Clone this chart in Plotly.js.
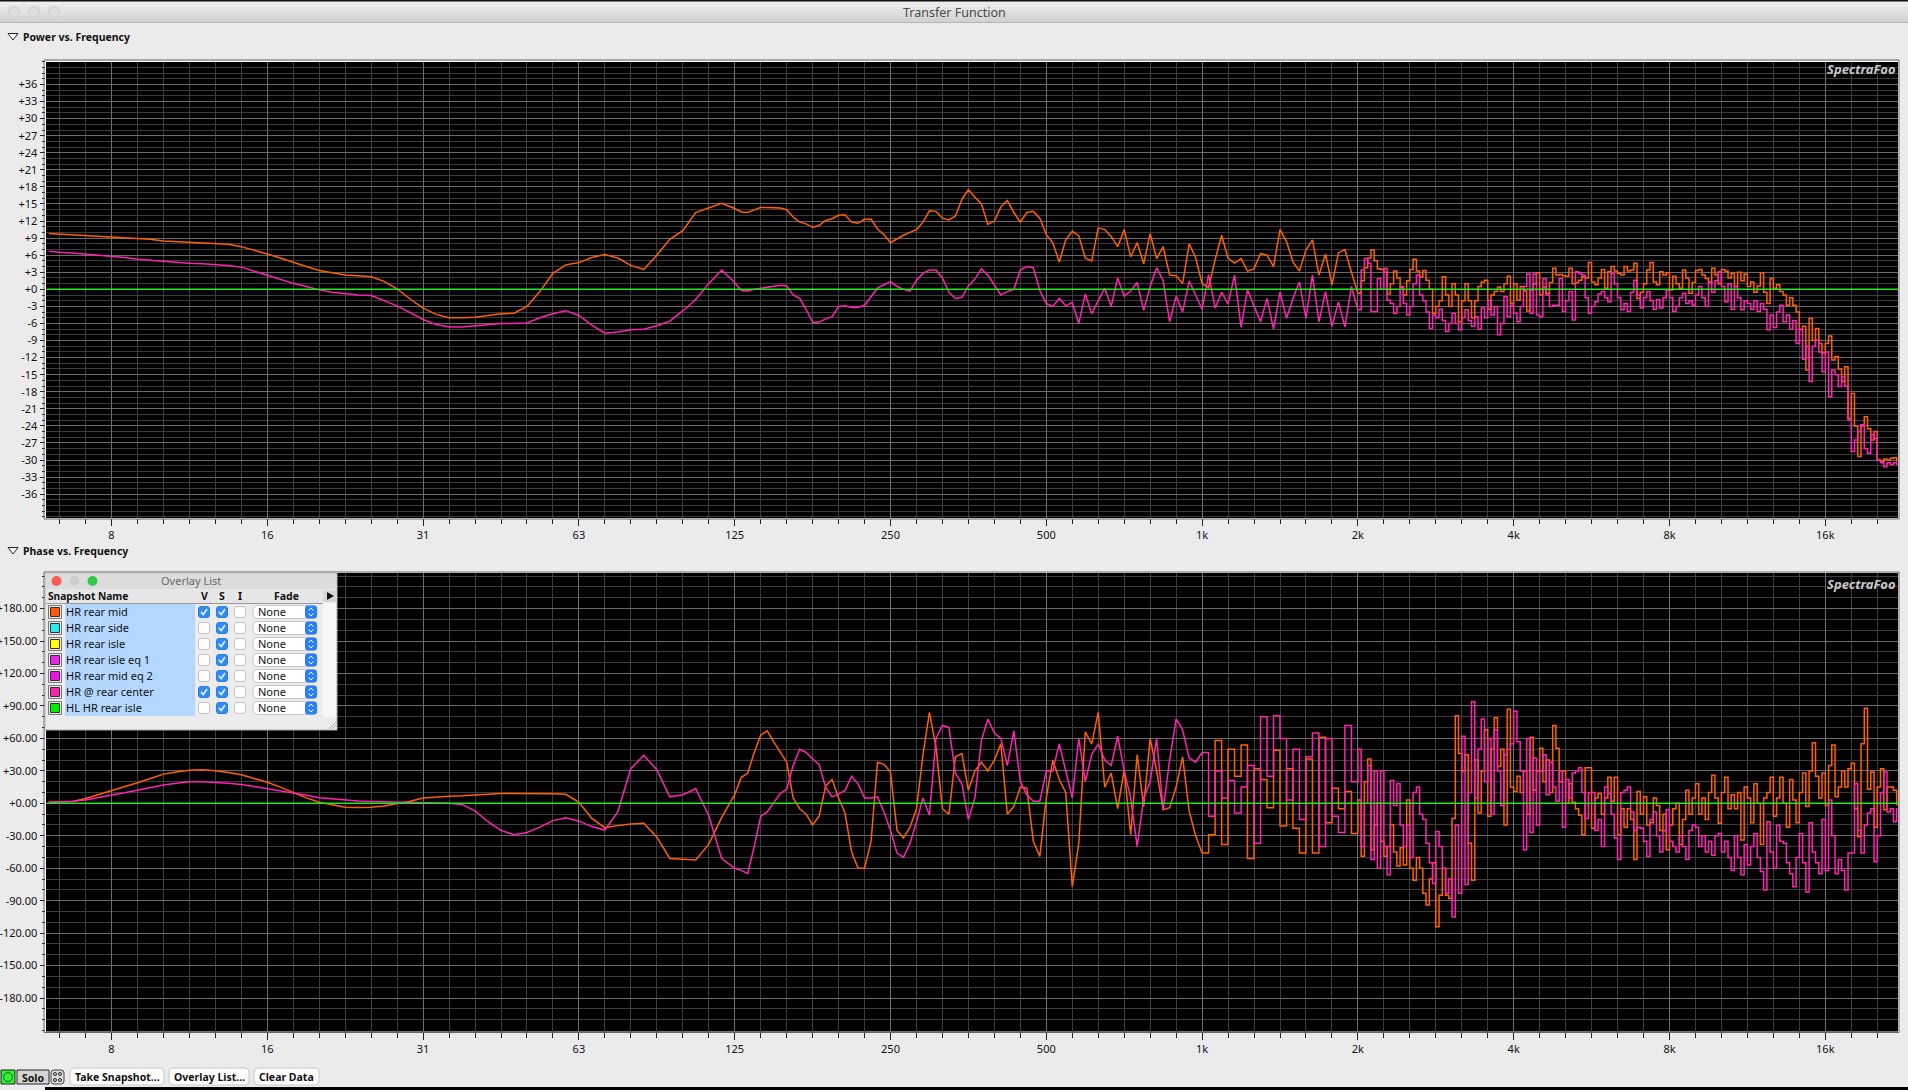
<!DOCTYPE html>
<html><head><meta charset="utf-8">
<script src="https://cdn.plot.ly/plotly-3.0.1.min.js"></script>
<style>html,body{margin:0;padding:0;background:#ebebeb;overflow:hidden}</style>
</head><body><div id="chart"></div>
<script>
// Frequencies (Hz) shared by all the curves
const freq = [
6.05,6.35,6.73,7.13,7.55,
8,8.48,8.98,9.51,10.08,10.68,11.31,11.99,12.7,13.45,14.25,15.1,
16,16.95,17.96,19.03,20.16,21.36,22.63,23.97,25.4,26.9,28.5,30.2,
32,33.9,35.9,38.05,40.3,42.7,45.25,47.95,50.8,53.8,57,60.4,
64,67.8,71.8,76.1,80.6,85.4,90.5,95.9,101.6,107.6,114,120.8,
128,131.8,135.6,139.6,143.7,147.9,152.2,156.7,161.3,166,170.9,175.9,181,186.3,191.8,197.4,203.2,209.1,215.3,221.6,228.1,234.8,241.6,248.7,
256,263.5,271.2,279.2,287.4,295.8,304.4,313.4,322.5,332,341.7,351.7,362,372.7,383.6,394.8,406.4,418.3,430.5,443.2,456.1,469.5,483.3,497.4,
512,527,542.4,558.3,574.7,591.6,608.9,626.7,645.1,664,683.4,703.4,724.1,745.3,767.1,789.6,812.7,836.5,861.1,886.3,912.3,939,966.5,994.9,
1024,1054,1085,1117,1149,1183,1218,1253,1290,1328,1367,1407,1448,1491,1534,1579,1625,1673,1722,1773,1825,1878,1933,1990,
2048,2078,2108,2139,2170,2202,2233,2266,2299,2332,2366,2401,2436,2471,2507,2544,2580,2618,2657,2695,2734,2773,2814,2855,2896,2939,2981,3025,3069,3113,3159,3204,3251,3298,3346,3395,3445,3495,3545,3597,3649,3702,3756,3811,3866,3922,3979,4037,
4096,4156,4216,4278,4340,4404,4466,4532,4598,4664,4732,4802,4872,4942,5014,5088,5160,5236,5314,5390,5468,5546,5628,5710,5792,5878,5962,6050,6138,6226,6318,6408,6502,6596,6692,6790,6890,6990,7090,7194,7298,7404,7512,7622,7732,7844,7958,8074,
8192,8312,8432,8556,8680,8808,8932,9064,9196,9328,9464,9604,9744,9884,10028,10176,10320,10472,10628,10780,10936,11092,11256,11420,11584,11756,11924,12100,12276,12452,12636,12816,13004,13192,13384,13580,13780,13980,14180,14388,14596,14808,15024,15244,15464,15688,15916,16148,
16384,16624,16864,17112,17360,17616,17864,18128,18392,18656,18928,19208,19488,19768,20056,20352,20640,20944,21256,21560,21872,22184,22512];

// Power (dB): "HR rear mid"
const powerRearMid = [
9.8,9.7,9.6,9.5,9.4,
9.2,9.1,9.0,8.8,8.5,8.4,8.2,8.2,8.1,7.9,7.5,6.9,
6.2,5.5,4.7,4.0,3.3,2.9,2.5,2.4,2.2,1.4,0.1,-1.7,
-3.3,-4.4,-5.0,-5.0,-4.9,-4.6,-4.3,-4.2,-3.0,-0.4,2.8,4.3,
4.7,5.6,6.1,5.5,4.2,3.5,6.0,8.8,10.3,13.5,14.3,15.1,
14.2,13.6,13.5,13.9,14.4,14.4,14.4,14.3,14.0,12.7,11.8,11.5,10.9,11.2,12.1,12.4,13,13.1,11.8,11.6,12.3,12.3,10.6,9.6,
8.2,8.9,9.5,10,10.5,11.8,13.8,13.7,12.5,12.2,12.9,15.8,17.5,16.2,15.0,11.4,12.0,14.5,15.6,13.5,11.8,13.5,13.7,12.5,
9.6,8.2,4.8,8.7,10.2,9.4,5.5,5.0,10.8,10.5,9.3,7.5,10.5,5.7,8.2,4.5,9.8,5.4,7.5,2.5,2.4,1.0,8.0,5.6,
1.0,0.3,5.2,9.5,5.5,4.6,5.4,3.2,3.6,6.3,6.0,4.0,10.5,8.4,4.8,3.2,6.9,8.7,2.5,6.2,0.8,6.4,7.0,3.0,
-0.7,1.5,3.8,5.5,6.9,5,3.6,3.5,3,-0.8,1,3.2,2,0.3,-1,1.5,3.5,5.3,3.2,2.2,3.3,1.6,0,-4.2,-3,-2,2.2,-1,-3,1,-1,-5.7,-2,1,-2,-5,-2,0.5,1.3,1.6,-3.5,-1,-0.4,0.4,-0.4,1,2.3,-2.5,
1,-1.9,.5,-.3,-3.8,-.1,1,2.9,-1,.4,-.7,1.2,3.7,2.5,2.6,2.4,2.3,3.7,1,1.2,1.6,2.2,2,4.7,1.3,.8,2,3.5,.2,3.1,4,3.2,2.8,2.5,4,3.2,3.4,4.6,-1.6,-.5,1,3.4,4.7,1.3,.8,3.1,2.5,2.9,
-.1,2.3,1,.2,3.4,2,-.7,1.2,3.3,3.5,2.5,1.9,1.2,3.7,2.5,1,3.5,3.2,2,2.8,.5,3,1.5,2.7,.5,1.3,-.5,.6,2.9,-.5,-2.5,1.9,.2,.8,-.4,-1,-2.8,-1.5,-2.8,-4,-7.1,-6.5,-14.2,-5.1,-9,-6.9,-9.5,-11.2,
-9.5,-8.2,-12.4,-11.8,-14,-16.2,-13.6,-22.7,-18.3,-24,-29.4,-24,-22.4,-24.5,-26.5,-25,-30,-30.2,-29.8,-30,-29.7,-29.6,-30.3];

// Power (dB): "HR @ rear center"
const powerRearCenter = [
6.7,6.5,6.4,6.2,6.1,
5.9,5.6,5.3,5.1,4.9,4.7,4.6,4.5,4.4,4.2,3.9,3.2,
2.5,1.8,1.05,.5,-.1,-.5,-.8,-1,-1.1,-2,-2.9,-4.1,
-5.3,-6.2,-6.6,-6.6,-6.4,-6.2,-6,-6,-5.9,-5,-4.3,-3.75,
-4.6,-6.3,-7.7,-7.5,-7.1,-7,-6.4,-5.6,-3.8,-1.8,1,3.4,
1.2,-.2,-.3,0,.2,.4,.5,.7,.6,-1,-1.6,-3.5,-5.8,-5.8,-5.2,-4.8,-3,-2.9,-3.2,-3.2,-2.8,-1.2,.2,.8,
1.35,.5,0,-.3,1.6,2.8,3.4,3.4,2,-.5,-1.6,-1.4,.6,1.8,3.6,2.5,.8,-1,-.4,0,3.4,4,3.8,-.2,
-2.5,-3,-1.6,-2.9,-2.3,-6,-.8,-4.3,-2,.2,-3,2,-1.2,-.3,1.2,-3.7,.5,3.8,1.5,-5.7,-1.2,-4,1.5,-1,
-3.5,2.6,-3.3,-.5,-2.6,2.5,-6.7,-.1,-3,-5.7,-1.6,-7,-.5,-5.1,-1.6,1.3,-5.1,2.5,-5.7,-.4,-6.5,-2.2,-6.6,.5,
-3.6,3.4,5.4,4.6,-3.9,-3.9,1.9,0,3.7,-1.9,-2.5,-4.2,-3,.5,-2.5,-4.5,-3,1,2.5,-1,-2,-4,-6.9,-4.5,-5,-3.5,-5.5,-7.4,-6,-4.2,-6,-7.1,-5,-3.6,-5.5,-6.5,-4.8,-7,-3.3,-5,-1.9,-4.5,-3,-8,-6,-1.3,-4.8,-2.8,
-4.2,-5.7,-3,.5,2.7,-4.2,2.7,-4.5,-4.8,1.9,-1,-3,-2.8,-2.8,1.9,-3.9,-2,-.4,-5.4,3.1,2.8,2.5,-1.5,-4.2,-3,-2.2,-.8,-.4,-1.5,-2.2,2.8,1,-1.5,-3.6,-2.5,-3.9,-.5,1.6,-1,-3.3,-1.5,-.4,-2,-3.5,-1.8,-3.3,-1.5,-.1,
-1.5,-3.9,-3,-1.5,-.7,-2.5,-2,-2.8,-1,.5,-1.5,-3,1.3,-.5,1.5,3.1,.5,-2.2,1,-3.5,.5,-1.5,-3.6,-2,-2.5,-3.5,-2,-3.9,-2.5,-3.5,-7.1,-4.5,-6.7,-4,-2.8,-5.7,-4.5,-7,-5.5,-9.5,-7,-12.3,-10,-16.2,-10,-8.9,-11,-14.5,
-11,-18.9,-14.2,-15,-17.1,-15.4,-17,-23,-28.5,-26.5,-25,-23.8,-28,-28.8,-25.5,-26.2,-30,-30.5,-31.2,-30.5,-30.8,-30.5,-30.9];

// Phase (degrees): "HR rear mid"
const phaseRearMid = [
.9,1,1.7,4.5,8,
11.5,15,19,23,27,29,30.5,31,30.2,28.5,26.5,23,
19.5,15,10,5,1,-1.5,-3.7,-3.9,-3.7,-2.5,-.6,2,
5,6,6.5,6.9,7.7,8.3,9.2,9.2,9.2,9,8.8,8.3,
1,-14,-22.5,-20.6,-19,-18.5,-31,-51,-52,-52.4,-38,-13,
8,24,27.7,47,63,67,57,48,38,5,-5,-10,-20,-12,16,22,5,-9,-45,-60,-60,-35,38,36,
29,-25,-32,-22,-5,45,84,52,-5,-10,43,46,12,30,38,30,40,55,-10,-3,15,14,-35,-49,
5,40,22,10,-77,-37,66,55,84,15,28,-5,31,-29,45,-3,60,30,-6,-4,15,43,-7,-30,
-46,-29,58,-38,50,25,54,-51,32,22,-4,49,-21,32,-23,-46,41,-46,61,-18,14,-5,11,-28,
3,-49,20,41,-43,-20,0,-35,-49,-40,-20,-45,-58,-41,-57,3,-60,-71,-50,-60,-83,-94,-70,-55,-114,-85,-60,-85,-88,-14,81,46,30,45,-37,-71,40,-9,30,68,-12,50,79,34,50,-20,87,15,
11,25,10,30,-10,61,12,30,51,20,40,10,72,51,20,30,0,18,1,-5,-11,-29,33,33,-23,5,9,-10,5,24,2,24,-29,-5,-22,-5,-15,-52,11,-10,6,-20,-18,5,-2,-25,-10,-43,
-20,-5,0,-38,-15,12,-10,5,18,-10,5,-15,10,26,5,-18.5,10,24,-5,8,-5,10,-34,15,5,-18,18,0,-38,5,10,24,-12,5,24,0,-22,22,3,-18,10,28,-3,30,56,25,5,28,
-2,35,54,6,15,30,15,32,37,-5,-31,55,88,13,29,-22,15,32,-6,15,15,12,-2];

// Phase (degrees): "HR @ rear center"
const phaseRearCenter = [
.9,1.2,2,3,5.5,
7.7,9.8,12,14.5,17,18.5,20,20,19.4,18.5,17.5,15.5,
13.6,11.8,9.9,7.5,5.2,4,2.8,2.2,1.8,1.6,1.5,1.3,
1,.5,.1,-1,-7,-17,-25,-29,-27,-22,-16,-13.3,
-16.5,-21.5,-24.7,-8,32,44.4,31,6,8,13.5,-11,-51,
-60,-62,-65,-40,-12,-8,0,9,13,35,50,47,41,36,15,6,8.5,12,25,18,5,5,6,-8,
-25,-46,-50,-37,-17,5,-11,60,72,70,28,18,-15,5,58,78,65,60,35,67,20,8,2,2,
30,30,55,30,5,60,20,45,55,40,35,62,30,5,-40,5,20,60,-6,40,78,68,42,38,
47,-12,30,5,21,-9,15,35,-37,80,25,81,60,3,50,-15,43,65,-40,60,-12,-27,72,20,
50,-40,0,35,-52,30,-60,30,-40,-66,21,-2,18,-20,-40,-20,-50,10,15,-10,-15,-37,-55,-74,-26,-40,-60,-83,-70,-105,-20,-83,62,-75,10,94,5,50,78,20,60,-10,68,30,-2,45,50,55,
85,57,30,-43,60,-27,42,-20,30,45,8,38,15,2,30,-22,22,5,28,30,33,10,-14,10,10,-25,-15,-40,15,9,-10,-32,-52,10,12,15,-8,-25,-22,-23,-35,-49,-15,-8,-30,-45,-25,-6,
-35,-40,-45,-30,-40,-52,-25,-20,-22,-40,-30,-45,-35,-48,-30,-28,-45,-35,-50,-62,-30,-50,-66,-38,-57,-40,-28,-50,-63,-80,-17,-45,-60,-20,-35,-37,-55,-65,-77,-50,-28,-55,-82,-18,-45,-55,-65,-15,
-62,3,-30,-65,-52,-62,-80,-46,-46,18,-25,-46,-20,-9,-5,-54,-30,10,29,-8,-5,-17,-4];

// Axis ticks and labels
const freqTickVals = [8,16,32,64,128,256,512,1024,2048,4096,8192,16384];
const freqTickText = ['8','16','31','63','125','250','500','1k','2k','4k','8k','16k'];
const powerTickVals = [36,33,30,27,24,21,18,15,12,9,6,3,0,-3,-6,-9,-12,-15,-18,-21,-24,-27,-30,-33,-36];
const powerTickText = ['+36','+33','+30','+27','+24','+21','+18','+15','+12','+9','+6','+3','+0','-3','-6','-9','-12','-15','-18','-21','-24','-27','-30','-33','-36'];
const phaseTickVals = [180,150,120,90,60,30,0,-30,-60,-90,-120,-150,-180];
const phaseTickText = ['+180.00','+150.00','+120.00','+90.00','+60.00','+30.00','+0.00','-30.00','-60.00','-90.00','-120.00','-150.00','-180.00'];

// Overlay list window
const snapshotNames = ['HR rear mid','HR rear side','HR rear isle','HR rear isle eq 1','HR rear mid eq 2','HR @ rear center','HL HR rear isle'];
const snapshotColors = ['#ff5a00','#22eeee','#ffff00','#ee22ee','#ee11ee','#ff22aa','#00ee00'];
const snapshotVisible = [1,0,0,0,0,1,0];

const W = 1908, H = 1090;
const ORANGE = '#ff6000', MAGENTA = '#ff22b4', GREEN = '#22e622';
const FONT = '"Noto Sans", "Open Sans", sans-serif';

const shapes = [], annotations = [];
const fx = x => x / W, fy = y => 1 - y / H;
function rect(x0, y0, x1, y1, fill, line, lw) {
  shapes.push({type:'rect', xref:'paper', yref:'paper', x0:fx(x0), x1:fx(x1), y0:fy(y0), y1:fy(y1),
    fillcolor:fill||'rgba(0,0,0,0)', line:{color:line||'rgba(0,0,0,0)', width:line?(lw||1):0}, layer:'above'});
}
function circle(cx, cy, r, fill, line) {
  shapes.push({type:'circle', xref:'paper', yref:'paper', x0:fx(cx-r), x1:fx(cx+r), y0:fy(cy-r), y1:fy(cy+r),
    fillcolor:fill, line:{color:line||fill, width:line?1:0}, layer:'above'});
}
function path(d, fill, line, lw) {
  shapes.push({type:'path', xref:'paper', yref:'paper', path:d, fillcolor:fill||'rgba(0,0,0,0)',
    line:{color:line||'rgba(0,0,0,0)', width:line?(lw||1):0}, layer:'above'});
}
const pt = (x, y) => fx(x) + ',' + fy(y);
function poly(pts, close) { return 'M' + pts.map(p => pt(p[0], p[1])).join(' L') + (close ? ' Z' : ''); }
function rrect(x0, y0, x1, y1, r, fill, line) {
  const d = 'M' + pt(x0+r, y0) + ' L' + pt(x1-r, y0) + ' Q' + pt(x1, y0) + ' ' + pt(x1, y0+r) +
    ' L' + pt(x1, y1-r) + ' Q' + pt(x1, y1) + ' ' + pt(x1-r, y1) + ' L' + pt(x0+r, y1) +
    ' Q' + pt(x0, y1) + ' ' + pt(x0, y1-r) + ' L' + pt(x0, y0+r) + ' Q' + pt(x0, y0) + ' ' + pt(x0+r, y0) + ' Z';
  path(d, fill, line, 1);
}
function txt(x, y, s, o) {
  o = o || {};
  annotations.push({xref:'paper', yref:'paper', x:fx(x), y:fy(y), text:o.bold?('<b>'+s+'</b>'):s, showarrow:false,
    xanchor:o.anchor||'left', yanchor:'middle', borderpad:0, borderwidth:0,
    font:{family:FONT, size:o.size||11, color:o.color||'#111'}});
}

// Window title bar
['#ededed','#e9e9e9','#e5e5e5','#e1e1e1','#dcdcdc','#d7d7d7','#d2d2d2'].forEach((c,i)=>rect(0,1+i*3,W,4+i*3,c));
rect(0,0,W,1.5,'#111');
rect(0,22,W,23,'#b4b4b4');
[14,34,54].forEach(x=>circle(x,12,5.5,'#dedede','#cfcfcf'));
txt(W/2,12,'Transfer Function',{anchor:'center',size:12.5,color:'#4a4a4a'});

// Section headers
function section(y, s) {
  path(poly([[8,y-3.5],[18,y-3.5],[13,y+3]],true),'#fff','#222',1);
  txt(23,y,s,{bold:true,size:10.5,color:'#111'});
}
section(37,'Power vs. Frequency');
section(551,'Phase vs. Frequency');

// Plot frames
rect(44,60,1899,519,null,'#666',1);
rect(44,572,1899,1032.5,null,'#666',1);

// Watermarks
txt(1896,69.5,'<b><i>SpectraFoo</i></b>',{anchor:'right',size:13,color:'#c8c8c8'});
txt(1896,583.5,'<b><i>SpectraFoo</i></b>',{anchor:'right',size:13,color:'#c8c8c8'});

// Bottom controls
rect(1,1070,15,1084,'#33ee33','#222');
circle(8,1077,4.5,'rgba(0,0,0,0)','#063');
rect(17,1070,49,1084,'#d4d4d4','#222');
txt(33,1077.5,'Solo',{anchor:'center',bold:true,size:10.5});
rrect(51,1070,64,1084,3,'#ddd','#444');
[[55,1074],[60,1074],[55,1080],[60,1080]].forEach(p=>circle(p[0],p[1],1.5,'#ddd','#222'));
rrect(70,1068,164,1085,4,'#fff','#c8c8c8');
txt(117,1076.5,'Take Snapshot...',{anchor:'center',bold:true,size:10.5});
rrect(169,1068,249,1085,4,'#fff','#c8c8c8');
txt(209,1076.5,'Overlay List...',{anchor:'center',bold:true,size:10.5});
rrect(254,1068,319,1085,4,'#fff','#c8c8c8');
txt(286.5,1076.5,'Clear Data',{anchor:'center',bold:true,size:10.5});
rect(45,1087,W,H,'#000');

// Overlay list window
rect(45,573,337,730,'#ececec','#b0b0b0');
rect(46,574,336,589,'#dcdcdc');
circle(56.5,581,5,'#fc5b57'); circle(74.5,581,5,'#cfcfcf'); circle(92.5,581,5,'#35c84a');
txt(191,580.5,'Overlay List',{anchor:'center',size:11,color:'#666'});
rect(46,589,323,603,'#e6e6e6');
rect(46,603,323,604,'#999');
txt(48,595.5,'Snapshot Name',{bold:true,size:10.2});
txt(204,595.5,'V',{anchor:'center',bold:true,size:10.5});
txt(222,595.5,'S',{anchor:'center',bold:true,size:10.5});
txt(240,595.5,'I',{anchor:'center',bold:true,size:10.5});
txt(286,595.5,'Fade',{anchor:'center',bold:true,size:10.5});
rect(323,590,337,602,'#d8d8d8');
path(poly([[327,592],[334,596],[327,600]],true),'#111');
rect(323,603,336,717,'#f7f7f7');
rect(65,604,195,716,'#b3d7ff');
snapshotNames.forEach((name,i)=>{
  const y = 612 + i*16;
  rect(48.5,y-6.5,61.5,y+6.5,'#e8e8e8','#777');
  rect(50.5,y-4.5,59.5,y+4.5,snapshotColors[i],'#333');
  txt(65.5,y-0.5,name,{size:11,color:'#111'});
  [[204,snapshotVisible[i]],[222,1],[240,0]].forEach(c=>{
    rrect(c[0]-5.5,y-5.5,c[0]+5.5,y+5.5,2.5,c[1]?'#2f8cf5':'#fff',c[1]?'#2a7ee0':'#c4c4c4');
    if(c[1]) path(poly([[c[0]-3,y],[c[0]-0.8,y+2.6],[c[0]+3,y-3]]),null,'#fff',1.5);
  });
  rrect(253,y-6.5,317,y+6.5,4,'#fff','#c8c8c8');
  rrect(305,y-6.5,317,y+6.5,3,'#2a80f4');
  path(poly([[308.8,y-1.5],[311,y-4],[313.2,y-1.5]]),null,'#fff',1);
  path(poly([[308.8,y+1.5],[311,y+4],[313.2,y+1.5]]),null,'#fff',1);
  txt(258,y-0.5,'None',{size:11,color:'#111'});
});
[[329,729,336,722],[332,729,336,725]].forEach(l=>path(poly([[l[0],l[1]],[l[2],l[3]]]),null,'#aaa',1));

// Axes helpers
function stepList(a, b, s) { const o = []; for (let v = a; v <= b; v += s) o.push(v); return o; }
const sixthOctaves = stepList(-2,69,1).map(k => 8 * Math.pow(2, k/6));
const xRange = [0.77557, 4.35490];
const TICKFONT = {family:FONT, size:11, color:'#111'};
function xAxis(anchor, dom) {
  return {type:'log', domain:dom, range:xRange, anchor, tickmode:'array', tickvals:freqTickVals, ticktext:freqTickText,
    ticks:'outside', ticklen:7, tickwidth:1, tickcolor:'#222', tickfont:TICKFONT, showgrid:true, gridcolor:'#6e6e6e', gridwidth:1,
    showline:true, linecolor:'#ffffff', linewidth:1, mirror:true, zeroline:false, fixedrange:true,
    minor:{tickmode:'array', tickvals:sixthOctaves, ticks:'outside', ticklen:5, tickwidth:1, tickcolor:'#222', showgrid:true, gridcolor:'#3c3c3c', gridwidth:1}};
}
function yAxis(anchor, dom, range, vals, text, minorStep, minorMax) {
  return {domain:dom, range, anchor, tickmode:'array', tickvals:vals, ticktext:text,
    ticks:'outside', ticklen:5, tickwidth:1, tickcolor:'#222', tickfont:TICKFONT, showgrid:true, gridcolor:'#6a6a6a', gridwidth:1,
    showline:true, linecolor:'#ffffff', linewidth:1, mirror:true, zeroline:false, fixedrange:true,
    minor:{tickmode:'array', tickvals:stepList(-minorMax,minorMax,minorStep), ticks:'outside', ticklen:3, tickwidth:1, tickcolor:'#222', showgrid:true, gridcolor:'#3c3c3c', gridwidth:1}};
}

const xDom = [45.5/W, 1898/W];
const layout = {
  width:W, height:H, margin:{l:0,r:0,t:0,b:0,pad:0}, paper_bgcolor:'#ebebeb', plot_bgcolor:'#000000', showlegend:false,
  xaxis:xAxis('y', xDom),
  yaxis:yAxis('x', [1-518/H, 1-61.5/H], [-40.19,40.04], powerTickVals, powerTickText, 1, 40),
  xaxis2:xAxis('y2', xDom),
  yaxis2:yAxis('x2', [1-1031.5/H, 1-573/H], [-210.9,212.9], phaseTickVals, phaseTickText, 10, 210),
  shapes, annotations
};
// Smooth at low frequencies, stepped where the analyser's bins become visible
function curve(x, y, color, ax, name, shape) {
  return {type:'scatter', mode:'lines', x, y, name, xaxis:'x'+ax, yaxis:'y'+ax, hoverinfo:'skip',
    line:{color, width:1.5, shape:shape||'linear'}};
}
function curvePair(y, color, ax, name, stepFrom) {
  const i = freq.indexOf(stepFrom);
  return [curve(freq.slice(0,i+1), y.slice(0,i+1), color, ax, name, 'linear'),
          curve(freq.slice(i), y.slice(i), color, ax, name, 'hv')];
}
const zeroFreq = [6, 23000], zeroLevel = [0, 0];
const traces = [
  ...curvePair(powerRearMid, ORANGE, '', 'HR rear mid', 2048),
  ...curvePair(powerRearCenter, MAGENTA, '', 'HR @ rear center', 2048),
  curve(zeroFreq, zeroLevel, GREEN, '', 'reference'),
  ...curvePair(phaseRearMid, ORANGE, '2', 'HR rear mid', 1024),
  ...curvePair(phaseRearCenter, MAGENTA, '2', 'HR @ rear center', 1024),
  curve(zeroFreq, zeroLevel, GREEN, '2', 'reference')
];
Plotly.newPlot('chart', traces, layout, {displayModeBar:false, staticPlot:true});
</script></body></html>
